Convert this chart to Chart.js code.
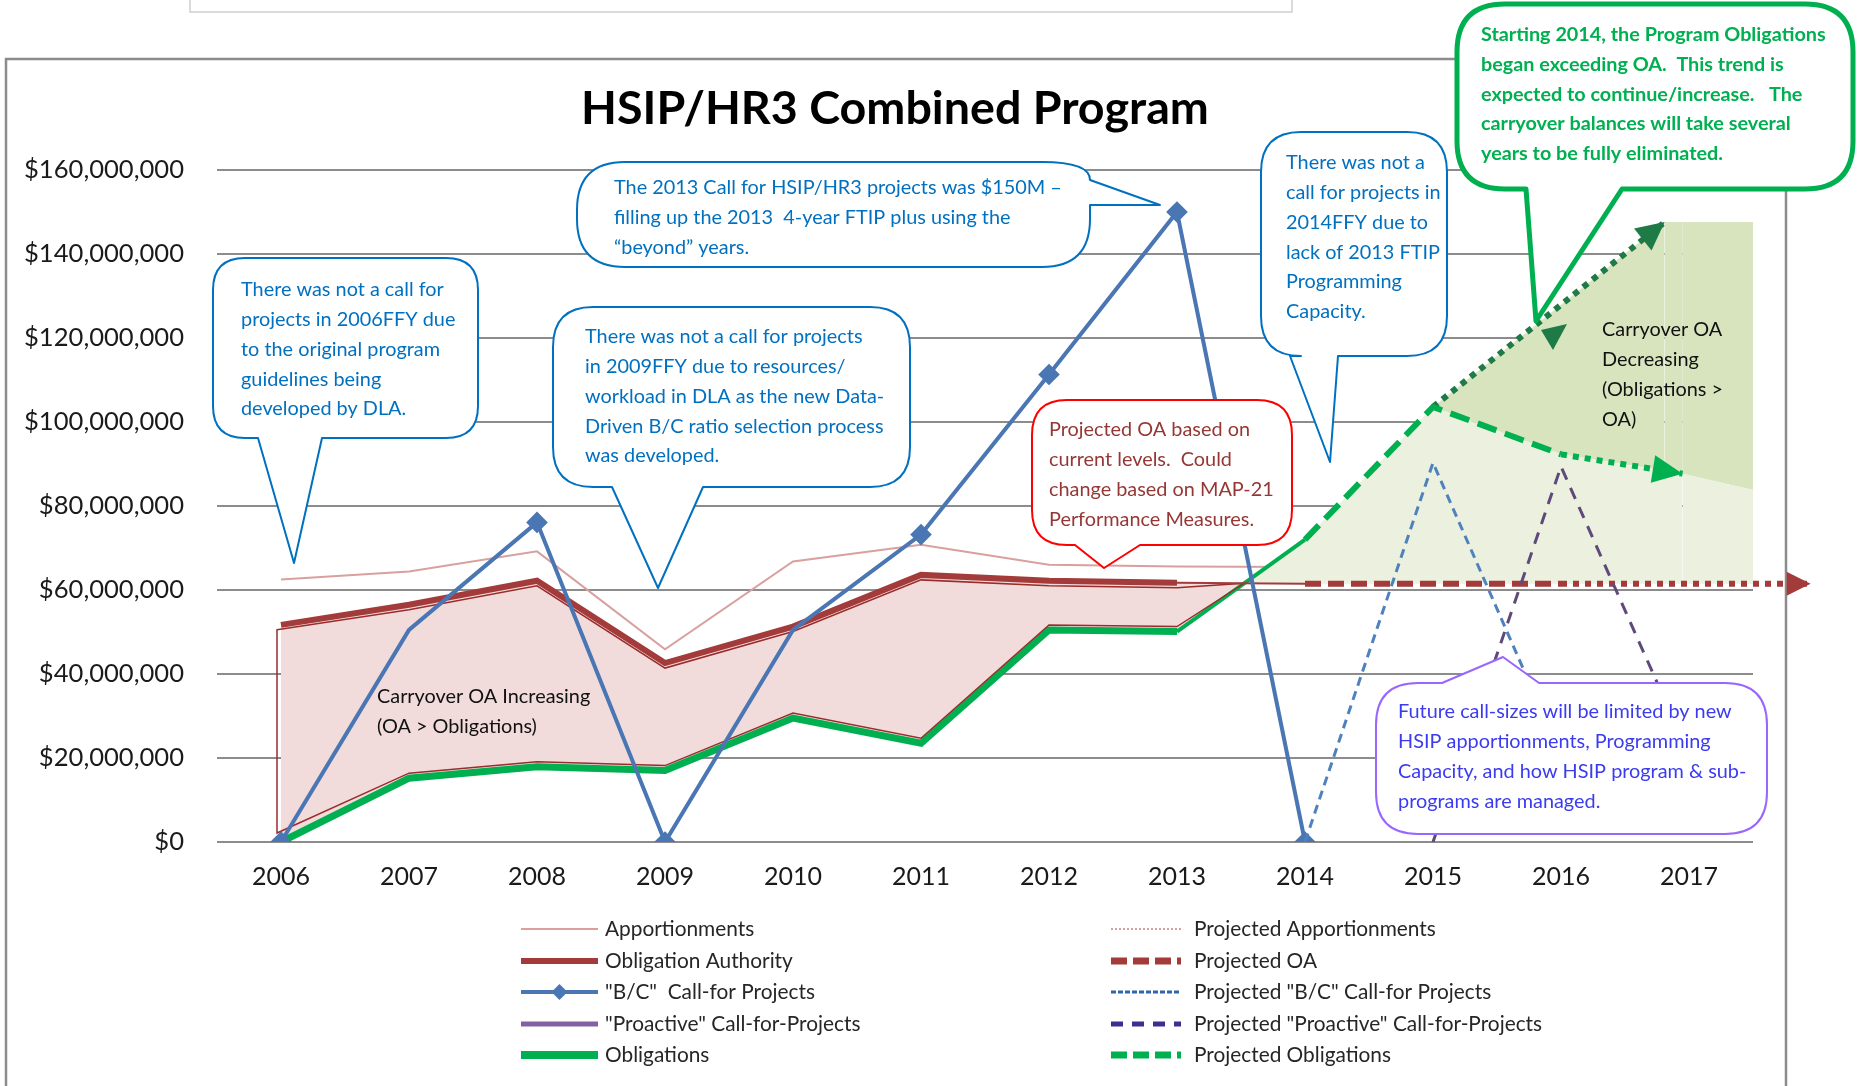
<!DOCTYPE html>
<html>
<head>
<meta charset="utf-8">
<script src="https://cdnjs.cloudflare.com/ajax/libs/Chart.js/4.4.0/chart.umd.min.js"></script>
<style>
  html, body { margin: 0; padding: 0; background: #fff; overflow: hidden; }
  canvas { display: block; }
</style>
</head>
<body>
<canvas id="programChart" width="1858" height="1086"></canvas>
<script>
// values are in millions of dollars
const years = [2006, 2007, 2008, 2009, 2010, 2011, 2012, 2013, 2014, 2015, 2016, 2017];
const apportionments       = [62.5, 64.4, 69.2, 45.9, 66.8, 70.8, 66.0, 65.6, 65.5, null, null, null];
const obligationAuthority  = [51.7, 56.5, 62.2, 42.6, 51.3, 63.6, 62.2, 61.7, null, null, null, null];
const projectedOA          = [null, null, null, null, null, null, null, 61.7, 61.5, 61.5, 61.5, null];
const bcCalls              = [0, 50.5, 76.1, 0, 50.5, 73.2, 111.3, 150.0, 0, null, null, null];
const projectedBcCalls     = [null, null, null, null, null, null, null, null, 0, 90.3, 20.7, null];
const projectedProactive   = [null, null, null, null, null, null, null, null, null, 0, 89.4, 20.9];
const obligations          = [0, 15.2, 17.9, 17.0, 29.5, 23.5, 50.5, 50.1, 72.0, null, null, null];
const projectedObligations = [null, null, null, null, null, null, null, null, 72.0, 103.6, 92.3, null];

// trend arrows after 2016
const oaTrendYears = [2016, 2017.95];
const oaTrend = [61.5, 61.5];
const obligationsTrendYears = [2016, 2016.95, 2017.5];
const obligationsTrend = [92.3, 87.7, 83.8];
const decreasingYears = [2015, 2016.81, 2017.5];
const decreasingEdge = [103.6, 147.6, 147.6];

const yTicks = [0, 20, 40, 60, 80, 100, 120, 140, 160];

const RED = "#a33b3b";
const GREEN = "#00b050";
const DARK_GREEN = "#1e7a46";
const BLUE = "#4a76b4";
const NONE = "rgba(0,0,0,0)";

function toPoints(xs, ys) {
  return xs.map((x, i) => ({ x: x, y: ys[i] })).filter(p => p.y !== null);
}

const oaLine = toPoints(years, obligationAuthority)
  .concat(toPoints(years, projectedOA).filter(p => p.x > 2013))
  .concat(toPoints(oaTrendYears, oaTrend).slice(1));
const obligationsLine = toPoints(years, obligations)
  .concat(toPoints(years, projectedObligations).filter(p => p.x > 2014))
  .concat(toPoints(obligationsTrendYears, obligationsTrend).slice(1));

// font sizes fitted to the widths seen in the picture
const measure = document.createElement("canvas").getContext("2d");
function fitSize(text, weight, target) {
  measure.font = weight + " 100px Lato";
  return 100 * target / measure.measureText(text).width;
}
const tickSize = fitSize("$160,000,000", "normal", 160);
const yearSize = fitSize("2006", "normal", 58);
const noteSize = fitSize("There was not a call for", "normal", 203);
const greenSize = fitSize("Starting 2014, the Program Obligations", "bold", 345);
const legendSize = fitSize("Obligation Authority", "normal", 188);
const titleSize = fitSize("HSIP/HR3 Combined Program", "bold", 628);

const callouts = [
  { x: 213, y: 258, w: 265, h: 180, r: 32, stroke: "#0070c0", color: "#0070c0",
    tail: { side: "bottom", a: 258, b: 322, tip: [294, 563] }, tx: 241, ty: 290,
    text: ["There was not a call for", "projects in 2006FFY due", "to the original program", "guidelines being", "developed by DLA."] },
  { x: 577, y: 162, w: 513, h: 105, r: 48, stroke: "#0070c0", color: "#0070c0",
    tail: { side: "right", a: 180, b: 205, tip: [1160, 205] }, tx: 614, ty: 188,
    text: ["The 2013 Call for HSIP/HR3 projects was $150M \u2013", "filling up the 2013  4-year FTIP plus using the", "\u201cbeyond\u201d years."] },
  { x: 553, y: 307, w: 357, h: 180, r: 40, stroke: "#0070c0", color: "#0070c0",
    tail: { side: "bottom", a: 612, b: 703, tip: [658, 588] }, tx: 585, ty: 337,
    text: ["There was not a call for projects", "in 2009FFY due to resources/", "workload in DLA as the new Data-", "Driven B/C ratio selection process", "was developed."] },
  { x: 1261, y: 132, w: 186, h: 224, r: 40, stroke: "#0070c0", color: "#0070c0",
    tail: { side: "bottom", a: 1290, b: 1338, tip: [1330, 462] }, tx: 1286, ty: 163,
    text: ["There was not a", "call for projects in", "2014FFY due to", "lack of 2013 FTIP", "Programming", "Capacity."] },
  { x: 1032, y: 400, w: 260, h: 145, r: 35, stroke: "#ff0000", color: "#953735",
    tail: { side: "bottom", a: 1075, b: 1140, tip: [1104, 568] }, tx: 1049, ty: 430,
    text: ["Projected OA based on", "current levels.  Could", "change based on MAP-21", "Performance Measures."] },
  { x: 1457, y: 4, w: 396, h: 185, r: 48, stroke: GREEN, color: GREEN, lw: 5, bold: true,
    tail: { side: "bottom", a: 1526, b: 1622, tip: [1536, 321] }, tx: 1481, ty: 35,
    text: ["Starting 2014, the Program Obligations", "began exceeding OA.  This trend is", "expected to continue/increase.   The", "carryover balances will take several", "years to be fully eliminated."],
    pointer: [[1541, 330], [1567, 324], [1553, 350]] },
  { x: 1376, y: 683, w: 391, h: 151, r: 42, stroke: "#9966ff", color: "#3b3bf0",
    tail: { side: "top", a: 1442, b: 1539, tip: [1503, 657] }, tx: 1398, ty: 712,
    text: ["Future call-sizes will be limited by new", "HSIP apportionments, Programming", "Capacity, and how HSIP program & sub-", "programs are managed."] }
];

const areaLabels = [
  { x: 377, y: 697, text: ["Carryover OA Increasing", "(OA > Obligations)"] },
  { x: 1602, y: 330, text: ["Carryover OA", "Decreasing", "(Obligations >", "OA)"] }
];

const legendItems = [
  { col: 0, row: 0, label: "Apportionments", color: "#d8a09e", width: 2 },
  { col: 0, row: 1, label: "Obligation Authority", color: RED, width: 6 },
  { col: 0, row: 2, label: "\"B/C\"  Call-for Projects", color: BLUE, width: 4, marker: true },
  { col: 0, row: 3, label: "\"Proactive\" Call-for-Projects", color: "#8064a2", width: 5 },
  { col: 0, row: 4, label: "Obligations", color: GREEN, width: 8 },
  { col: 1, row: 0, label: "Projected Apportionments", color: "#d8a09e", width: 2, dash: [2, 2] },
  { col: 1, row: 1, label: "Projected OA", color: RED, width: 7, dash: [16, 6] },
  { col: 1, row: 2, label: "Projected \"B/C\" Call-for Projects", color: "#2e65ad", width: 3, dash: [5, 2] },
  { col: 1, row: 3, label: "Projected \"Proactive\" Call-for-Projects", color: "#3b2f8f", width: 5, dash: [12, 9] },
  { col: 1, row: 4, label: "Projected Obligations", color: GREEN, width: 7, dash: [16, 6] }
];
const legendRows = [929, 961, 992, 1024, 1055];

function bubble(ctx, c) {
  const x = c.x, y = c.y, x2 = c.x + c.w, y2 = c.y + c.h, r = c.r, t = c.tail;
  ctx.beginPath();
  ctx.moveTo(x + r, y);
  if (t.side === "top") { ctx.lineTo(t.a, y); ctx.lineTo(t.tip[0], t.tip[1]); ctx.lineTo(t.b, y); }
  ctx.lineTo(x2 - r, y);
  if (t.side === "right") {
    ctx.quadraticCurveTo(x2, y, x2, t.a);
    ctx.lineTo(t.tip[0], t.tip[1]);
    ctx.lineTo(x2, t.b);
  } else {
    ctx.quadraticCurveTo(x2, y, x2, y + r);
  }
  ctx.lineTo(x2, y2 - r);
  ctx.quadraticCurveTo(x2, y2, x2 - r, y2);
  if (t.side === "bottom") { ctx.lineTo(t.b, y2); ctx.lineTo(t.tip[0], t.tip[1]); ctx.lineTo(t.a, y2); }
  ctx.lineTo(x + r, y2);
  ctx.quadraticCurveTo(x, y2, x, y2 - r);
  ctx.lineTo(x, y + r);
  ctx.quadraticCurveTo(x, y, x + r, y);
  ctx.closePath();
}

function arrowHead(ctx, from, to, len, half, color) {
  const dx = to.x - from.x, dy = to.y - from.y;
  const d = Math.hypot(dx, dy), ux = dx / d, uy = dy / d;
  const bx = to.x - ux * len, by = to.y - uy * len;
  ctx.save();
  ctx.fillStyle = color;
  ctx.beginPath();
  ctx.moveTo(to.x, to.y);
  ctx.lineTo(bx - uy * half, by + ux * half);
  ctx.lineTo(bx + uy * half, by - ux * half);
  ctx.closePath();
  ctx.fill();
  ctx.restore();
}

// arrows at the end of the trend lines
const arrows = [
  { dataset: 0, from: 2016, to: 2017.95, len: 24, half: 12, color: RED },
  { dataset: 1, from: 2016, to: 2016.95, len: 30, half: 14, color: GREEN },
  { dataset: 2, from: 2015, to: 2016.81, len: 28, half: 14, color: DARK_GREEN }
];

const decorations = {
  id: "decorations",
  beforeDraw(chart) {
    const ctx = chart.ctx;
    ctx.save();
    ctx.fillStyle = "#fff";
    ctx.fillRect(0, 0, chart.width, chart.height);
    ctx.strokeStyle = "#cfcfcf";
    ctx.lineWidth = 1.5;
    ctx.strokeRect(190, -4, 1102, 16);
    ctx.strokeStyle = "#8c8c8c";
    ctx.lineWidth = 2.5;
    ctx.beginPath();
    ctx.moveTo(6, 1090); ctx.lineTo(6, 59); ctx.lineTo(1786, 59); ctx.lineTo(1786, 1090);
    ctx.stroke();
    ctx.restore();
  },
  afterDatasetDraw(chart, args) {
    // thin outline of the "carryover increasing" area, just inside OA and obligations
    if (args.index !== 1) return;
    const ctx = chart.ctx;
    const a = chart.getDatasetMeta(0).data, b = chart.getDatasetMeta(1).data;
    const ia = chart.data.datasets[0].data.findIndex(p => p.x === 2013);
    const ib = chart.data.datasets[1].data.findIndex(p => p.x === 2013);
    const a0 = a[ia], a1 = a[ia + 1], b0 = b[ib], b1 = b[ib + 1];
    const t = (b0.y - a0.y) / ((a1.y - a0.y) - (b1.y - b0.y));
    const cx = a0.x + t * (a1.x - a0.x), cy = a0.y + t * (a1.y - a0.y);
    ctx.save();
    ctx.strokeStyle = "#9b2c2c";
    ctx.lineWidth = 1.5;
    ctx.beginPath();
    ctx.moveTo(a[0].x - 4, a[0].y + 5);
    for (let i = 1; i <= ia; i++) ctx.lineTo(a[i].x, a[i].y + 5);
    ctx.lineTo(cx, cy);
    for (let i = ib; i >= 1; i--) ctx.lineTo(b[i].x, b[i].y - 5);
    ctx.lineTo(b[0].x - 4, b[0].y - 9);
    ctx.closePath();
    ctx.stroke();
    ctx.restore();
  },
  afterDatasetsDraw(chart) {
    const ctx = chart.ctx;
    arrows.forEach(a => {
      const data = chart.data.datasets[a.dataset].data;
      const pts = chart.getDatasetMeta(a.dataset).data;
      const i0 = data.findIndex(p => p.x === a.from);
      const i1 = data.findIndex(p => p.x === a.to);
      arrowHead(ctx, pts[i0], pts[i1], a.len, a.half, a.color);
    });
  },
  afterDraw(chart) {
    const ctx = chart.ctx;
    ctx.save();
    // title
    ctx.fillStyle = "#000";
    ctx.font = "bold " + titleSize + "px Lato";
    ctx.textAlign = "center";
    ctx.textBaseline = "middle";
    ctx.fillText("HSIP/HR3 Combined Program", 895, 109);
    ctx.textAlign = "left";

    // shaded area labels
    ctx.font = noteSize + "px Lato";
    ctx.fillStyle = "#111";
    areaLabels.forEach(l => l.text.forEach((t, i) => ctx.fillText(t, l.x, l.y + i * 29.7)));

    // callouts
    callouts.forEach(c => {
      bubble(ctx, c);
      ctx.fillStyle = "#fff";
      ctx.fill();
      ctx.strokeStyle = c.stroke;
      ctx.lineWidth = c.lw || 2;
      ctx.lineJoin = "round";
      ctx.stroke();
      if (c.pointer) {
        ctx.fillStyle = DARK_GREEN;
        ctx.beginPath();
        c.pointer.forEach((p, i) => (i ? ctx.lineTo(p[0], p[1]) : ctx.moveTo(p[0], p[1])));
        ctx.closePath();
        ctx.fill();
      }
      ctx.fillStyle = c.color;
      ctx.font = c.bold ? "bold " + greenSize + "px Lato" : noteSize + "px Lato";
      c.text.forEach((t, i) => ctx.fillText(t, c.tx, c.ty + i * 29.7));
    });

    // legend
    legendItems.forEach(it => {
      const x1 = it.col ? 1111 : 521, x2 = it.col ? 1181 : 598, tx = it.col ? 1194 : 605;
      const y = legendRows[it.row];
      ctx.save();
      ctx.strokeStyle = it.color;
      ctx.lineWidth = it.width;
      ctx.setLineDash(it.dash || []);
      ctx.beginPath();
      ctx.moveTo(x1, y); ctx.lineTo(x2, y);
      ctx.stroke();
      if (it.marker) {
        const cx = (x1 + x2) / 2;
        ctx.fillStyle = it.color;
        ctx.beginPath();
        ctx.moveTo(cx, y - 8); ctx.lineTo(cx + 8, y); ctx.lineTo(cx, y + 8); ctx.lineTo(cx - 8, y);
        ctx.closePath();
        ctx.fill();
      }
      ctx.restore();
      ctx.fillStyle = "#262626";
      ctx.font = legendSize + "px Lato";
      ctx.fillText(it.label, tx, y);
    });
    ctx.restore();
  }
};

const segX = c => c.p0.parsed.x;

new Chart(document.getElementById("programChart"), {
  type: "line",
  data: {
    datasets: [
      {
        // 0: obligation authority + projected OA + trend arrow
        data: oaLine,
        borderColor: RED,
        borderWidth: 6,
        pointRadius: 0,
        clip: false,
        order: 4,
        segment: {
          borderWidth: c => (segX(c) >= 2013 && segX(c) < 2014 ? 2 : 6),
          borderDash: c => (segX(c) < 2014 ? [] : segX(c) < 2016 ? [16, 7] : [6, 6])
        }
      },
      {
        // 1: obligations + projected obligations + trend arrow
        data: obligationsLine,
        borderColor: GREEN,
        borderWidth: 7,
        pointRadius: 0,
        order: 5,
        fill: { target: 0, above: "#ebf1de", below: "#f2dcdb" },
        segment: {
          borderWidth: c => (segX(c) < 2013 ? 7 : segX(c) < 2014 ? 4 : 6),
          borderDash: c => (segX(c) < 2014 ? [] : segX(c) < 2016 ? [20, 9] : [6, 6]),
          borderColor: c => (segX(c) >= 2016.9 ? NONE : GREEN)
        }
      },
      {
        // 2: upper edge of "carryover decreasing" area
        data: toPoints(decreasingYears, decreasingEdge),
        borderColor: DARK_GREEN,
        borderWidth: 6,
        borderDash: [6, 6],
        pointRadius: 0,
        order: 6,
        fill: { target: 1, above: "#d7e4bd", below: "#d7e4bd" },
        segment: {
          borderColor: c => (segX(c) >= 2016.8 ? NONE : DARK_GREEN)
        }
      },
      {
        // 3: apportionments
        data: toPoints(years, apportionments),
        borderColor: "#d8a09e",
        borderWidth: 2,
        pointRadius: 0,
        order: 7
      },
      {
        // 4: "B/C" call for projects
        data: toPoints(years, bcCalls),
        borderColor: BLUE,
        borderWidth: 4,
        pointStyle: "rectRot",
        pointRadius: [8, 0, 8, 8, 0, 8, 8, 8, 8],
        pointBackgroundColor: BLUE,
        pointBorderColor: BLUE,
        order: 3
      },
      {
        // 5: projected "B/C" calls
        data: toPoints(years, projectedBcCalls),
        borderColor: "#4f81bd",
        borderWidth: 3,
        borderDash: [9, 6],
        pointRadius: 0,
        order: 2
      },
      {
        // 6: projected "Proactive" calls
        data: toPoints(years, projectedProactive),
        borderColor: "#5f497a",
        borderWidth: 3,
        borderDash: [12, 9],
        pointRadius: 0,
        order: 1
      }
    ]
  },
  options: {
    responsive: false,
    devicePixelRatio: 1,
    animation: false,
    events: [],
    layout: { padding: { left: 0, top: 170, right: 105, bottom: 194 } },
    plugins: {
      legend: { display: false },
      tooltip: { enabled: false },
      title: { display: false }
    },
    scales: {
      x: {
        type: "linear",
        min: 2005.5,
        max: 2017.5,
        afterBuildTicks: axis => { axis.ticks = years.map(v => ({ value: v })); },
        afterFit: axis => { axis.height = 50; },
        grid: { display: false, drawTicks: false },
        border: { display: false },
        ticks: {
          padding: 20,
          color: "#1a1a1a",
          font: { family: "Lato", size: yearSize },
          callback: v => String(v)
        }
      },
      y: {
        min: 0,
        max: 160,
        afterBuildTicks: axis => { axis.ticks = yTicks.map(v => ({ value: v })); },
        afterFit: axis => { axis.width = 217; },
        grid: { color: "#8c8c8c", lineWidth: 2, drawTicks: false },
        border: { display: false },
        ticks: {
          padding: 33,
          color: "#1a1a1a",
          font: { family: "Lato", size: tickSize },
          callback: v => "$" + (v * 1000000).toLocaleString("en-US")
        }
      }
    }
  },
  plugins: [decorations]
});
</script>
</body>
</html>
